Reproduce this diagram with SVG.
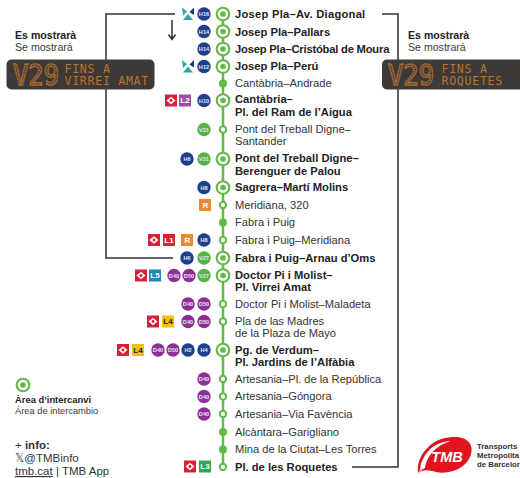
<svg xmlns="http://www.w3.org/2000/svg" width="520" height="478" viewBox="0 0 520 478">
<defs>
<style>
text{font-family:"Liberation Sans",Arial,sans-serif;fill:#333}
.s{font-size:11.15px}
.b{font-size:11.2px;font-weight:bold;fill:#222}
.h{font-size:10.6px;font-weight:bold;fill:#222}
.h2{font-size:10.6px;fill:#3a3a3a}
.bt{font-size:5.6px;font-weight:bold;fill:#e4e6f2;text-anchor:middle}
.lt{font-size:8px;font-weight:bold;text-anchor:middle}
.conn{fill:none;stroke:#2f2f2f;stroke-width:1.5}
.line{stroke:#62b946;stroke-width:2.5}
.ring{fill:#fff;stroke:#62b946;stroke-width:2.1}
.dot{fill:#62b946}
.small{fill:#fff;stroke:#62b946;stroke-width:2}
.hb{fill:#1e3f8b}.vb{fill:#56b447}.db{fill:#8f2f96}
.panel{fill:#3d3a38}
.led{font-family:"DejaVu Sans Mono",monospace;fill:none;stroke:#c9792c;stroke-width:1.5;stroke-dasharray:1.2 .6}
.led2{font-family:"DejaVu Sans Mono",monospace;fill:#b9742f;font-size:11.6px;letter-spacing:.7px}
</style>
<g id="ic"><rect x="-6" y="-6" width="12" height="12" fill="#dd1f36"/><path d="M-4.500 0 0-3.800 4.500 0 0 3.800Z" fill="#fff"/><circle r="1.400" fill="#dd1f36"/></g>
<g id="sa"><path d="M-6-6.500-1-2.500-5 1.500Z" fill="#2aa7a0"/><path d="M6-6.500 1.500-2 6 1Z" fill="#1d3a6e"/><path d="M-5 6 0 0 5 6Z" fill="#2aa7a0"/></g>
</defs>

<g id="connectors">
<path class="conn" d="M175 14H106V258H173"/>
<path class="conn" d="M382 14H398V467H352"/>
<path class="conn" d="M172 20V38M168.500 34.500 172 39.500 175.500 34.500"/>
<line class="line" x1="223" y1="14" x2="223" y2="467"/>
</g>

<g id="legend-left">
<text x="15" y="39" class="h">Es mostrarà</text>
<text x="15" y="51" class="h2">Se mostrará</text>
<rect class="panel" x="6.500" y="59.500" width="148" height="30" rx="5"/>
<text class="led" x="13" y="85" font-size="28" textLength="46" lengthAdjust="spacingAndGlyphs">V29</text>
<text class="led2" x="64.500" y="72.500">FINS A</text>
<text class="led2" x="64.500" y="85">VIRREI AMAT</text>
</g>
<g id="legend-right">
<text x="408" y="39" class="h">Es mostrarà</text>
<text x="408" y="51" class="h2">Se mostrará</text>
<rect class="panel" x="382" y="59.500" width="150" height="30" rx="5"/>
<text class="led" x="388" y="85" font-size="28" textLength="46" lengthAdjust="spacingAndGlyphs">V29</text>
<text class="led2" x="441.500" y="72.500">FINS A</text>
<text class="led2" x="441.500" y="85">ROQUETES</text>
</g>

<g id="stop-1"><circle cx="223" cy="14" r="6.300" class="ring"/><circle cx="223" cy="14" r="2.800" class="dot"/><use href="#sa" x="188" y="14"/><circle cx="204" cy="14" r="6.700" class="hb"/><text class="bt" x="204" y="16">H16</text><text class="b" x="235" y="18" style="letter-spacing:.25px">Josep Pla–Av. Diagonal</text></g>
<g id="stop-2"><circle cx="223" cy="31.500" r="6.300" class="ring"/><circle cx="223" cy="31.500" r="2.800" class="dot"/><circle cx="204" cy="31.500" r="6.700" class="hb"/><text class="bt" x="204" y="33.500">H14</text><text class="b" x="235" y="35.500">Josep Pla–Pallars</text></g>
<g id="stop-3"><circle cx="223" cy="49" r="6.300" class="ring"/><circle cx="223" cy="49" r="2.800" class="dot"/><circle cx="204" cy="49" r="6.700" class="hb"/><text class="bt" x="204" y="51">H14</text><text class="b" x="235" y="52.500" style="letter-spacing:-.2px">Josep Pla–Cristóbal de Moura</text></g>
<g id="stop-4"><circle cx="223" cy="66.500" r="6.300" class="ring"/><circle cx="223" cy="66.500" r="2.800" class="dot"/><use href="#sa" x="188" y="66.500"/><circle cx="204" cy="66.500" r="6.700" class="hb"/><text class="bt" x="204" y="68.500">H12</text><text class="b" x="235" y="70">Josep Pla–Perú</text></g>
<g id="stop-5"><circle cx="223" cy="83.500" r="4" class="dot"/><text class="s" x="235" y="87">Cantàbria–Andrade</text></g>
<g id="stop-6"><circle cx="223" cy="100.500" r="6.300" class="ring"/><circle cx="223" cy="100.500" r="2.800" class="dot"/><use href="#ic" x="171" y="100.500"/><rect x="179" y="94.500" width="12" height="12" fill="#9b4fa8"/><text class="lt" x="185" y="103.300" style="fill:#fff">L2</text><circle cx="204" cy="100.500" r="6.700" class="hb"/><text class="bt" x="204" y="102.500">H10</text><text class="b" x="235" y="103">Cantàbria–</text><text class="b" x="235" y="116">Pl. del Ram de l’Aigua</text></g>
<g id="stop-7"><circle cx="223" cy="129.500" r="3.200" class="small"/><circle cx="204" cy="129.500" r="6.700" class="vb"/><text class="bt" x="204" y="131.500">V31</text><text class="s" x="235" y="133">Pont del Treball Digne–</text><text class="s" x="235" y="145">Santander</text></g>
<g id="stop-8"><circle cx="223" cy="159" r="6.300" class="ring"/><circle cx="223" cy="159" r="2.800" class="dot"/><circle cx="187" cy="159" r="6.700" class="hb"/><text class="bt" x="187" y="161">H6</text><circle cx="204" cy="159" r="6.700" class="vb"/><text class="bt" x="204" y="161">V31</text><text class="b" x="235" y="162">Pont del Treball Digne–</text><text class="b" x="235" y="174.500">Berenguer de Palou</text></g>
<g id="stop-9"><circle cx="223" cy="187.500" r="6.300" class="ring"/><circle cx="223" cy="187.500" r="2.800" class="dot"/><circle cx="204" cy="187.500" r="6.700" class="hb"/><text class="bt" x="204" y="189.500">H8</text><text class="b" x="235" y="191">Sagrera–Martí Molins</text></g>
<g id="stop-10"><circle cx="223" cy="205" r="3.200" class="small"/><rect x="199" y="199" width="12" height="12" fill="#ef8a2c"/><text class="lt" x="205.500" y="208" style="fill:#fff">R</text><text class="s" x="235" y="208.700">Meridiana, 320</text></g>
<g id="stop-11"><circle cx="223" cy="222.500" r="4" class="dot"/><text class="s" x="235" y="226">Fabra i Puig</text></g>
<g id="stop-12"><circle cx="223" cy="240" r="3.200" class="small"/><use href="#ic" x="154" y="240"/><rect x="163" y="234" width="12" height="12" fill="#dd1f36"/><text class="lt" x="169" y="242.800" style="fill:#fff">L1</text><rect x="181" y="234" width="12" height="12" fill="#ef8a2c"/><text class="lt" x="187.500" y="243" style="fill:#fff">R</text><circle cx="204" cy="240" r="6.700" class="hb"/><text class="bt" x="204" y="242">H8</text><text class="s" x="235" y="243.700">Fabra i Puig–Meridiana</text></g>
<g id="stop-13"><circle cx="223" cy="258" r="6.300" class="ring"/><circle cx="223" cy="258" r="2.800" class="dot"/><circle cx="187" cy="258" r="6.700" class="hb"/><text class="bt" x="187" y="260">H6</text><circle cx="204" cy="258" r="6.700" class="vb"/><text class="bt" x="204" y="260">V27</text><text class="b" x="235" y="261.700">Fabra i Puig–Arnau d’Oms</text></g>
<g id="stop-14"><circle cx="223" cy="275.500" r="6.300" class="ring"/><circle cx="223" cy="275.500" r="2.800" class="dot"/><use href="#ic" x="141" y="275.500"/><rect x="149" y="269.500" width="12" height="12" fill="#1c86c0"/><text class="lt" x="155" y="278.300" style="fill:#fff">L5</text><circle cx="174" cy="275.500" r="6.700" class="db"/><text class="bt" x="174" y="277.500">D40</text><circle cx="189" cy="275.500" r="6.700" class="db"/><text class="bt" x="189" y="277.500">D50</text><circle cx="204" cy="275.500" r="6.700" class="vb"/><text class="bt" x="204" y="277.500">V27</text><text class="b" x="235" y="279">Doctor Pi i Molist–</text><text class="b" x="235" y="291">Pl. Virrei Amat</text></g>
<g id="stop-15"><circle cx="223" cy="304" r="3.200" class="small"/><circle cx="188" cy="304" r="6.700" class="db"/><text class="bt" x="188" y="306">D40</text><circle cx="204" cy="304" r="6.700" class="db"/><text class="bt" x="204" y="306">D50</text><text class="s" x="235" y="307.700">Doctor Pi i Molist–Maladeta</text></g>
<g id="stop-16"><circle cx="223" cy="321.500" r="3.200" class="small"/><use href="#ic" x="153" y="321.500"/><rect x="162" y="315.500" width="12" height="12" fill="#f6bd16"/><text class="lt" x="168" y="324.300" style="fill:#222">L4</text><circle cx="188" cy="321.500" r="6.700" class="db"/><text class="bt" x="188" y="323.500">D40</text><circle cx="204" cy="321.500" r="6.700" class="db"/><text class="bt" x="204" y="323.500">D50</text><text class="s" x="235" y="325">Pla de las Madres</text><text class="s" x="235" y="337">de la Plaza de Mayo</text></g>
<g id="stop-17"><circle cx="223" cy="350" r="6.300" class="ring"/><circle cx="223" cy="350" r="2.800" class="dot"/><use href="#ic" x="123" y="350"/><rect x="132" y="344" width="12" height="12" fill="#f6bd16"/><text class="lt" x="138" y="352.800" style="fill:#222">L4</text><circle cx="158" cy="350" r="6.700" class="db"/><text class="bt" x="158" y="352">D40</text><circle cx="173" cy="350" r="6.700" class="db"/><text class="bt" x="173" y="352">D50</text><circle cx="188" cy="350" r="6.700" class="hb"/><text class="bt" x="188" y="352">H2</text><circle cx="204" cy="350" r="6.700" class="hb"/><text class="bt" x="204" y="352">H4</text><text class="b" x="235" y="354">Pg. de Verdum–</text><text class="b" x="235" y="366">Pl. Jardins de l’Alfàbia</text></g>
<g id="stop-18"><circle cx="223" cy="379" r="3.200" class="small"/><circle cx="204" cy="379" r="6.700" class="db"/><text class="bt" x="204" y="381">D40</text><text class="s" x="235" y="383">Artesania–Pl. de la República</text></g>
<g id="stop-19"><circle cx="223" cy="396.500" r="3.200" class="small"/><circle cx="204" cy="396.500" r="6.700" class="db"/><text class="bt" x="204" y="398.500">D40</text><text class="s" x="235" y="400">Artesania–Góngora</text></g>
<g id="stop-20"><circle cx="223" cy="414" r="3.200" class="small"/><circle cx="204" cy="414" r="6.700" class="db"/><text class="bt" x="204" y="416">D40</text><text class="s" x="235" y="417.500">Artesania–Via Favència</text></g>
<g id="stop-21"><circle cx="223" cy="432" r="4" class="dot"/><text class="s" x="235" y="435.500">Alcàntara–Garigliano</text></g>
<g id="stop-22"><circle cx="223" cy="449.500" r="4" class="dot"/><text class="s" x="235" y="453">Mina de la Ciutat–Les Torres</text></g>
<g id="stop-23"><circle cx="223" cy="467" r="3.200" class="small"/><use href="#ic" x="190" y="466.500"/><rect x="199" y="460.500" width="12" height="12" fill="#2fa84f"/><text class="lt" x="205" y="469.300" style="fill:#fff">L3</text><text class="b" x="235" y="470.500">Pl. de les Roquetes</text></g>

<g id="interchange-legend">
<circle cx="23" cy="385" r="6.300" class="ring"/><circle cx="23" cy="385" r="2.800" class="dot"/>
<text x="15" y="403" style="font-size:9.400px;font-weight:bold;fill:#222">Àrea d’intercanvi</text>
<text x="15" y="414" style="font-size:9.300px;fill:#3a3a3a">Área de intercambio</text>
</g>
<g id="info">
<text x="15" y="449" style="font-size:11.500px;font-weight:bold"><tspan font-weight="normal">+</tspan> info:</text>
<text x="15" y="462" style="font-size:11.500px"><tspan style="font-family:'DejaVu Sans',sans-serif">𝕏</tspan>@TMBinfo</text>
<text x="15" y="475" style="font-size:11.500px"><tspan text-decoration="underline">tmb.cat</tspan> | TMB App</text>
</g>
<g id="logo">
<path d="M418 473C416 457 430 438 452 437C467 436 474 444 471 454C468 467 451 475 436 472C429 470 423 469 418 473Z" fill="#e2131f"/>
<path d="M418 473C420 454 433 442 451 441C439 444 427 454 425 468C422 469 420 471 418 473Z" fill="#fff"/>
<path d="M418 473C418 456 431 441 447 438C433 443 421 456 420 470Z" fill="#e2131f"/>
<text x="447" y="461.500" text-anchor="middle" style="font-size:14.500px;font-weight:bold;font-style:italic;fill:#fff">TMB</text>
<text x="477" y="449" style="font-size:7.800px;font-weight:bold">Transports</text>
<text x="477" y="458" style="font-size:7.800px;font-weight:bold">Metropolita</text>
<text x="477" y="467" style="font-size:7.800px;font-weight:bold">de Barcelor</text>
</g>
</svg>
